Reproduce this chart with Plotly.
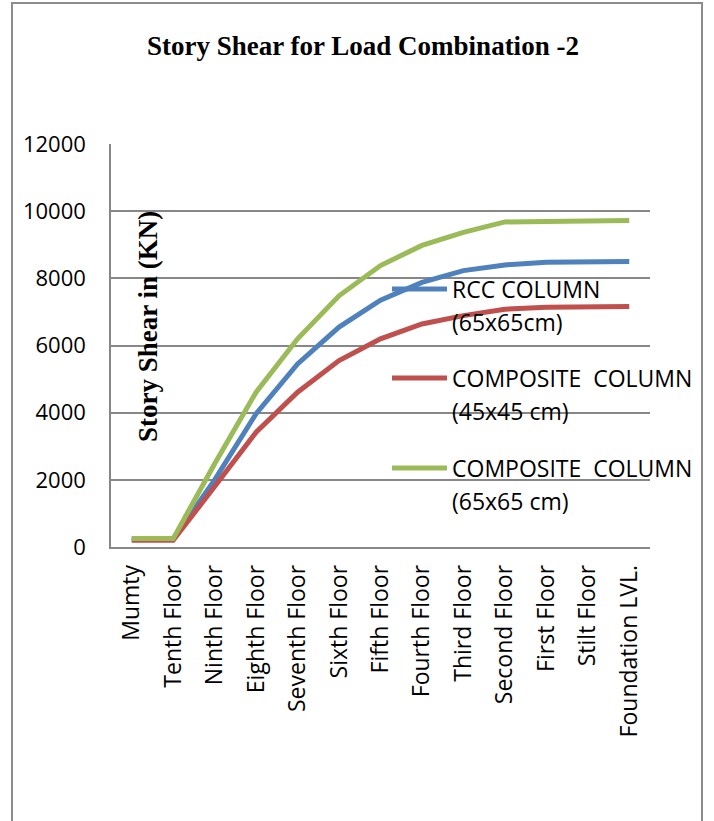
import plotly.graph_objects as go

# Story shear (kN) per level for load combination 2
floors = ["Mumty", "Tenth Floor", "Ninth Floor", "Eighth Floor", "Seventh Floor",
          "Sixth Floor", "Fifth Floor", "Fourth Floor", "Third Floor", "Second Floor",
          "First Floor", "Stilt Floor", "Foundation LVL."]
rcc_65 = [230, 230, 2000, 3970, 5450, 6550, 7350, 7880, 8230, 8400, 8480, 8500, 8500]
composite_45 = [200, 200, 1800, 3420, 4610, 5550, 6200, 6640, 6890, 7080, 7140, 7160, 7160]
composite_65 = [250, 250, 2480, 4610, 6200, 7480, 8380, 8980, 9370, 9680, 9690, 9710, 9720]

series_values = [rcc_65, composite_45, composite_65]
series_names = [("RCC COLUMN", "(65x65cm)"),
                ("COMPOSITE  COLUMN", "(45x45 cm)"),
                ("COMPOSITE  COLUMN", "(65x65 cm)")]
series_colors = ["#4F81BD", "#C0504D", "#9BBB59"]

y_ticks = [0, 2000, 4000, 6000, 8000, 10000, 12000]

W, H = 714, 821
L, R, T, B = 111, 64, 144, 274
PW, PH = W - L - R, H - T - B
GRID = "#878787"
TXT_FONT = "Open Sans"


def px_x(x):
    return (x - L) / PW


def px_y(y):
    return (H - B - y) / PH


fig = go.Figure()
for vals, name, color in zip(series_values, series_names, series_colors):
    fig.add_trace(go.Scatter(
        x=floors, y=vals, mode="lines", name=" ".join(name),
        line=dict(color=color, width=5), showlegend=False,
    ))

shapes = [
    # outer chart border
    dict(type="rect", xref="paper", yref="paper",
         x0=px_x(12), x1=px_x(702), y0=px_y(835), y1=px_y(3),
         line=dict(color="#8c8c8c", width=2), layer="below"),
]
annotations = [
    dict(text="<b>Story Shear in (KN)</b>", xref="paper", yref="paper",
         x=px_x(148), y=px_y(327), textangle=-90, showarrow=False,
         xanchor="center", yanchor="middle",
         font=dict(family="Liberation Serif", size=27, color="black")),
]

# legend drawn inside the plot, one key per series
legend_rows = [289, 378, 468]
for (line1, line2), color, yrow in zip(series_names, series_colors, legend_rows):
    shapes.append(dict(type="line", xref="paper", yref="paper",
                       x0=px_x(392), x1=px_x(447), y0=px_y(yrow), y1=px_y(yrow),
                       line=dict(color=color, width=5)))
    for k, txt in enumerate((line1, line2)):
        annotations.append(dict(text=txt, xref="paper", yref="paper",
                                x=px_x(450), y=px_y(yrow + k * 33),
                                xanchor="left", yanchor="middle", showarrow=False,
                                font=dict(family=TXT_FONT, size=23, color="black")))

fig.update_layout(
    width=W, height=H,
    margin=dict(l=L, r=R, t=T, b=B, pad=0),
    paper_bgcolor="white", plot_bgcolor="white",
    title=dict(text="<b>Story Shear for Load Combination -2</b>",
               x=363 / W, xanchor="center", y=1 - 46 / H, yanchor="middle",
               xref="container",
               font=dict(family="Liberation Serif", size=27, color="black")),
    shapes=shapes, annotations=annotations,
    xaxis=dict(type="category", range=[-0.5, len(floors) - 0.5],
               showgrid=False, showline=True, linecolor=GRID, linewidth=1.5,
               ticks="", tickangle=-90, ticklabelstandoff=7,
               tickfont=dict(family=TXT_FONT, size=23, color="black")),
    yaxis=dict(range=[0, 12000], tickvals=y_ticks, tickformat="d",
               showgrid=True, gridcolor=GRID, gridwidth=1.5,
               showline=True, linecolor=GRID, linewidth=1.5, zeroline=False,
               ticks="", ticklabelstandoff=19,
               tickfont=dict(family=TXT_FONT, size=22, color="black")),
)

fig.write_html("out.html")
